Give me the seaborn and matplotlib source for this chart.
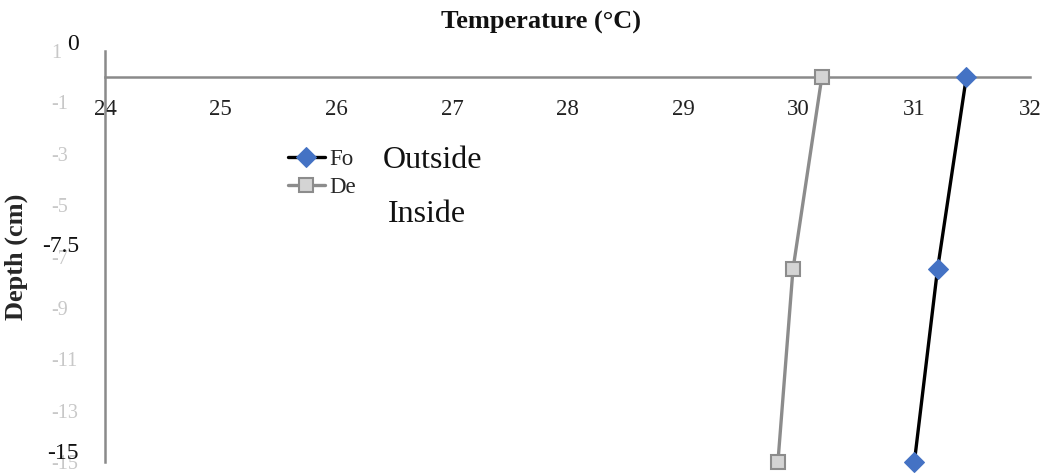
import matplotlib
matplotlib.use("Agg")
import matplotlib.pyplot as plt
import matplotlib.transforms as mtransforms
import seaborn as sns
import pandas as pd

# Soil temperature profile, outside and inside
depth = [0, -7.5, -15]
temp_outside = [31.45, 31.2, 31.0]
temp_inside = [30.2, 29.95, 29.82]
series_labels = ["Fo", "De"]
overlay_labels = ["Outside", "Inside"]
x_ticks = [24, 25, 26, 27, 28, 29, 30, 31, 32]
faint_y_ticks = [1, -1, -3, -5, -7, -9, -11, -13, -15]
faint_y_labels = ["1", "-1", "-3", "-5", "-7", "-9", "-11", "-13", "-15"]
depth_labels = ["0", "-7.5", "-15"]

sns.set_style("white")
plt.rcParams["font.family"] = ["Liberation Serif", "DejaVu Serif"]

W, H = 1047, 474
fig = plt.figure(figsize=(W / 100, H / 100), dpi=100)
ax = fig.add_axes([105 / W, 1 - 462 / H, (1030 - 105) / W, (462 - 51) / H])

df_out = pd.DataFrame({"temp": temp_outside, "depth": depth})
df_in = pd.DataFrame({"temp": temp_inside, "depth": depth})

sns.lineplot(data=df_out, x="temp", y="depth", sort=False, estimator=None,
             color="black", lw=2.4, marker="D", markersize=10,
             markerfacecolor="#4472C4", markeredgecolor="#4472C4",
             label=series_labels[0], ax=ax, zorder=3, clip_on=False)
sns.lineplot(data=df_in, x="temp", y="depth", sort=False, estimator=None,
             color="#8c8c8c", lw=2.4, marker="s", markersize=10,
             markerfacecolor="#d4d4d4", markeredgecolor="#8c8c8c",
             markeredgewidth=1.5, label=series_labels[1], ax=ax, zorder=3,
             clip_on=False)

ax.set_xlim(24, 32)
ax.set_ylim(-15, 1)

# Axis lines: left spine and a horizontal axis through depth 0
axis_grey = "#8a8a8a"
for side in ["top", "right"]:
    ax.spines[side].set_visible(False)
ax.spines["left"].set_color(axis_grey)
ax.spines["left"].set_linewidth(1.8)
ax.spines["bottom"].set_position(("data", 0))
ax.spines["bottom"].set_color(axis_grey)
ax.spines["bottom"].set_linewidth(1.8)

ax.set_xticks(x_ticks)
ax.set_xticklabels([str(t) for t in x_ticks])
ax.tick_params(axis="x", length=0, pad=16, labelsize=16.5, labelcolor="#222222")

ax.set_yticks(faint_y_ticks)
ax.set_yticklabels(faint_y_labels)
ax.tick_params(axis="y", length=0, pad=39, labelsize=14.5, labelcolor="#c8c8c8")
for lab in ax.get_yticklabels():
    lab.set_horizontalalignment("left")

ax.set_xlabel("")
ax.set_ylabel("Depth (cm)", fontsize=19, fontweight="bold")
ax.yaxis.set_label_coords(-0.083, 0.5)

# Depth labels drawn over the faint tick labels
blend = mtransforms.blended_transform_factory(fig.transFigure, ax.transData)
depth_label_y = [1.25, -6.6, -14.65]
for txt, yv in zip(depth_labels, depth_label_y):
    ax.text(79 / W, yv, txt, transform=blend, ha="right", va="center",
            fontsize=17, color="#111111")

fig.text(541 / W, 1 - 22 / H, "Temperature (°C)", ha="center", va="center",
         fontsize=19, fontweight="bold", color="#111111")

leg = ax.legend(loc="upper left", bbox_to_anchor=(288 / W, 1 - 149 / H),
                bbox_transform=fig.transFigure, frameon=False, fontsize=16.5,
                handlelength=1.6, handletextpad=0.2, labelspacing=0.3,
                borderpad=0, borderaxespad=0)

fig.text(383 / W, 1 - 160 / H, overlay_labels[0], ha="left", va="center",
         fontsize=23, color="#111111")
fig.text(388 / W, 1 - 215 / H, overlay_labels[1], ha="left", va="center",
         fontsize=23, color="#111111")

fig.savefig("out.png", dpi=100)
